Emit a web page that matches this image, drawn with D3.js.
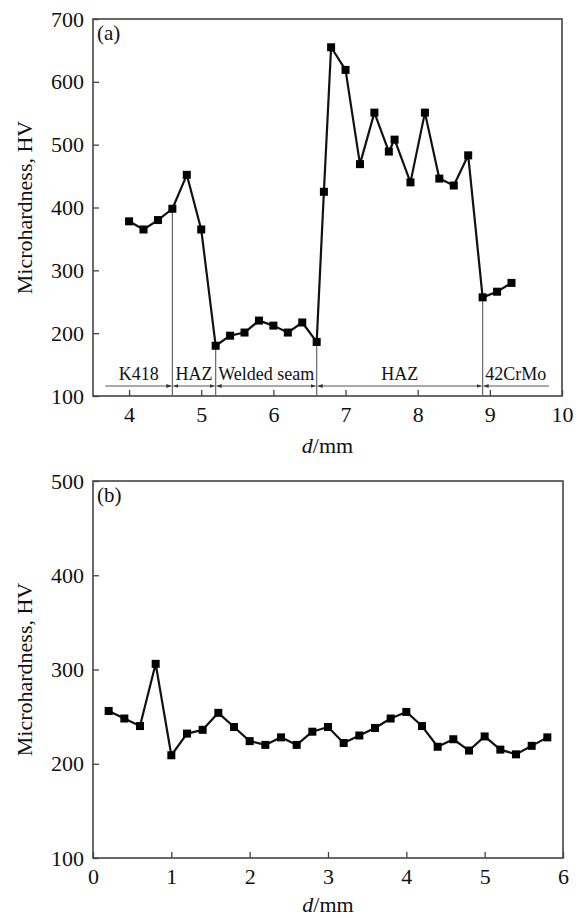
<!DOCTYPE html>
<html>
<head>
<meta charset="utf-8">
<script src="https://cdn.jsdelivr.net/npm/d3@7"></script>
<style>
  body { margin: 0; background: #fff; }
  svg text { font-family: "Liberation Serif", "Times New Roman", serif; fill: #111; }
</style>
</head>
<body>
<div id="chart"></div>
<script>
// panel (a): welded joint
var distA = [4.0, 4.2, 4.4, 4.6, 4.8, 5.0, 5.2, 5.4, 5.6, 5.8, 6.0, 6.2, 6.4, 6.6,
             6.7, 6.8, 7.0, 7.2, 7.4, 7.6, 7.68, 7.9, 8.1, 8.3, 8.5, 8.7, 8.9, 9.1, 9.3];
var hvA = [378, 365, 380, 398, 452, 365, 180, 196, 201, 220, 212, 201, 217, 186,
           425, 655, 619, 469, 551, 489, 508, 440, 551, 446, 435, 483, 257, 266, 280];
var zoneNames = ["K418", "HAZ", "Welded seam", "HAZ", "42CrMo"];
var zoneEdges = [3.67, 4.6, 5.2, 6.6, 8.9, 9.82];
var xTicksA = [4, 5, 6, 7, 8, 9, 10];
var yTicksA = [100, 200, 300, 400, 500, 600, 700];

// panel (b)
var distB = [0.2, 0.4, 0.6, 0.8, 1.0, 1.2, 1.4, 1.6, 1.8, 2.0, 2.2, 2.4, 2.6, 2.8, 3.0,
             3.2, 3.4, 3.6, 3.8, 4.0, 4.2, 4.4, 4.6, 4.8, 5.0, 5.2, 5.4, 5.6, 5.8];
var hvB = [256, 248, 240, 306, 209, 232, 236, 254, 239, 224, 220, 228, 220, 234, 239,
           222, 230, 238, 248, 255, 240, 218, 226, 214, 229, 215, 210, 219, 228];
var xTicksB = [0, 1, 2, 3, 4, 5, 6];
var yTicksB = [100, 200, 300, 400, 500];

var svg = d3.select("#chart")
    .append("svg")
    .attr("width", 580)
    .attr("height", 918);

var defs = svg.append("defs");
defs.append("marker")
    .attr("id", "arr")
    .attr("viewBox", "0 0 10 10")
    .attr("refX", 10)
    .attr("refY", 5)
    .attr("markerWidth", 5)
    .attr("markerHeight", 5)
    .attr("markerUnits", "userSpaceOnUse")
    .attr("orient", "auto-start-reverse")
    .append("path")
    .attr("d", "M0,1 L10,5 L0,9 Z")
    .attr("fill", "#333");

function drawPanel(opt)
{
    var g = svg.append("g")
        .attr("transform", `translate(${opt.left}, ${opt.top})`);

    var x = d3.scaleLinear().domain(opt.xDomain).range([0, opt.w]);
    var y = d3.scaleLinear().domain(opt.yDomain).range([opt.h, 0]);

    var xAxis = g.append("g")
        .attr("transform", `translate(0, ${opt.h})`)
        .call(d3.axisBottom(x).tickValues(opt.xTicks).tickFormat(d3.format("d"))
            .tickSize(-6).tickSizeOuter(0).tickPadding(10));
    var yAxis = g.append("g")
        .call(d3.axisLeft(y).tickValues(opt.yTicks).tickFormat(d3.format("d"))
            .tickSize(-6).tickSizeOuter(0).tickPadding(9));

    [xAxis, yAxis].forEach(a =>
    {
        a.select(".domain").remove();
        a.selectAll(".tick line").attr("stroke", "#444").attr("stroke-width", 1.3);
        a.selectAll(".tick text")
            .style("font-size", "22px")
            .style("font-family", "'Liberation Serif', serif")
            .attr("fill", "#111");
    });

    // frame
    g.append("rect")
        .attr("width", opt.w)
        .attr("height", opt.h)
        .attr("fill", "none")
        .attr("stroke", "#444")
        .attr("stroke-width", 1.6);

    g.append("text")
        .attr("x", 4)
        .attr("y", 21)
        .style("font-size", "21px")
        .text(opt.tag);

    // y title
    g.append("text")
        .attr("transform", `translate(${-61}, ${opt.h / 2}) rotate(-90)`)
        .attr("text-anchor", "middle")
        .style("font-size", "22px")
        .text("Microhardness, HV");

    // x title
    var xt = g.append("text")
        .attr("x", opt.w / 2)
        .attr("y", opt.h + opt.titleDy)
        .attr("text-anchor", "middle")
        .style("font-size", "22px");
    xt.append("tspan").style("font-style", "italic").text("d");
    xt.append("tspan").text("/mm");

    return { g: g, x: x, y: y };
}

function drawSeries(p, xs, ys)
{
    var pts = xs.map((d, i) => [d, ys[i]]);
    p.g.append("path")
        .datum(pts)
        .attr("fill", "none")
        .attr("stroke", "#111")
        .attr("stroke-width", 2.2)
        .attr("stroke-linejoin", "round")
        .attr("d", d3.line().x(d => p.x(d[0])).y(d => p.y(d[1])));
    p.g.selectAll("rect.pt")
        .data(pts)
        .enter()
        .append("rect")
        .attr("class", "pt")
        .attr("x", d => p.x(d[0]) - 4)
        .attr("y", d => p.y(d[1]) - 4)
        .attr("width", 8)
        .attr("height", 8)
        .attr("fill", "#000");
}

var pa = drawPanel({
    left: 93, top: 19, w: 469, h: 377,
    xDomain: [3.5, 10], yDomain: [100, 700],
    xTicks: xTicksA, yTicks: yTicksA, tag: "(a)", titleDy: 57
});

// zone boundaries: thin verticals from the axis up to the point at that distance
var inner = zoneEdges.slice(1, -1);
pa.g.selectAll("line.bound")
    .data(inner)
    .enter()
    .append("line")
    .attr("x1", d => pa.x(d))
    .attr("x2", d => pa.x(d))
    .attr("y1", pa.y(100))
    .attr("y2", d => pa.y(hvA[distA.indexOf(d)]))
    .attr("stroke", "#666")
    .attr("stroke-width", 1.2);

var zoneY = pa.y(100) - 10;
zoneNames.forEach((name, i) =>
{
    var x0 = pa.x(zoneEdges[i]) + (i > 0 ? 1 : 0);
    var x1 = pa.x(zoneEdges[i + 1]) - (i < zoneNames.length - 1 ? 1 : 0);
    var ln = pa.g.append("line")
        .attr("x1", x0).attr("x2", x1)
        .attr("y1", zoneY).attr("y2", zoneY)
        .attr("stroke", "#555")
        .attr("stroke-width", 1);
    if (i > 0) ln.attr("marker-start", "url(#arr)");
    if (i < zoneNames.length - 1) ln.attr("marker-end", "url(#arr)");
    pa.g.append("text")
        .attr("x", (pa.x(zoneEdges[i]) + pa.x(zoneEdges[i + 1])) / 2)
        .attr("y", zoneY - 6)
        .attr("text-anchor", "middle")
        .style("font-size", "18px")
        .text(name);
});

drawSeries(pa, distA, hvA);

var pb = drawPanel({
    left: 93, top: 481, w: 470, h: 377,
    xDomain: [0, 6], yDomain: [100, 500],
    xTicks: xTicksB, yTicks: yTicksB, tag: "(b)", titleDy: 54
});
drawSeries(pb, distB, hvB);
</script>
</body>
</html>
